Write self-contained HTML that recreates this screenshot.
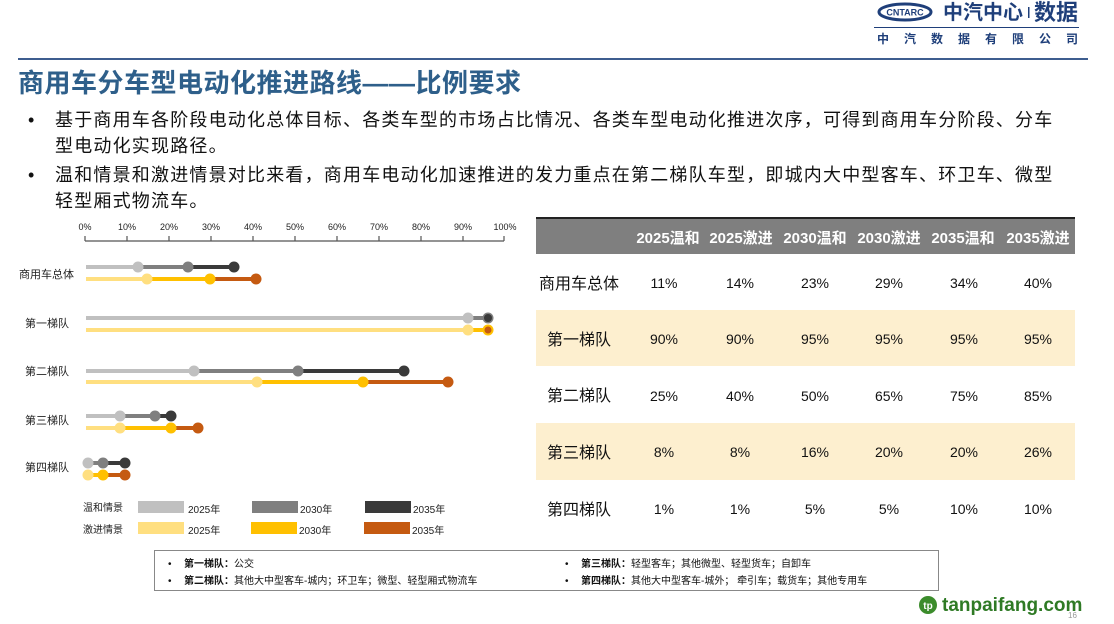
<!DOCTYPE html>
<html><head><meta charset="utf-8"><style>
body{margin:0;background:#fff;}
svg{display:block;font-family:"Liberation Sans","Noto Sans CJK SC",sans-serif;}
</style></head><body>
<svg width="1114" height="624" viewBox="0 0 1114 624" xmlns="http://www.w3.org/2000/svg">
<!-- logo -->
<ellipse cx="905" cy="12" rx="26" ry="8" fill="none" stroke="#1f3f7a" stroke-width="3"/>
<text x="905" y="15.5" font-size="9" font-weight="bold" fill="#1f3f7a" text-anchor="middle">CNTARC</text>
<text x="943" y="19" font-size="20" font-weight="bold" fill="#1f3f7a">中汽中心</text>
<rect x="1028" y="7" width="1.5" height="11" fill="#1f3f7a"/>
<text x="1034" y="20" font-size="22" font-weight="bold" fill="#1f3f7a">数据</text>
<rect x="874" y="27" width="205" height="1" fill="#1f3f7a"/>
<text x="877" y="43" font-size="12" font-weight="bold" fill="#1f3f7a" letter-spacing="15">中汽数据有限公司</text>
<rect x="18" y="58" width="1070" height="2" fill="#3e5d8f"/>
<!-- title -->
<text x="18" y="92" font-size="26" font-weight="bold" fill="#2e5f8a" letter-spacing="0.5">商用车分车型电动化推进路线——比例要求</text>
<g font-size="18" fill="#111" letter-spacing="1.2">
<text x="28" y="126">•</text>
<text x="55" y="126">基于商用车各阶段电动化总体目标、各类车型的市场占比情况、各类车型电动化推进次序，可得到商用车分阶段、分车</text>
<text x="55" y="152">型电动化实现路径。</text>
<text x="28" y="181">•</text>
<text x="55" y="181">温和情景和激进情景对比来看，商用车电动化加速推进的发力重点在第二梯队车型，即城内大中型客车、环卫车、微型</text>
<text x="55" y="207">轻型厢式物流车。</text>
</g>
<!-- axis -->
<g font-size="9" fill="#222" text-anchor="middle">
<text x="85" y="230">0%</text><text x="127" y="230">10%</text><text x="169" y="230">20%</text><text x="211" y="230">30%</text><text x="253" y="230">40%</text><text x="295" y="230">50%</text><text x="337" y="230">60%</text><text x="379" y="230">70%</text><text x="421" y="230">80%</text><text x="463" y="230">90%</text><text x="505" y="230">100%</text>
</g>
<path d="M85 241H504 M85 236V241 M127 236V241 M169 236V241 M211 236V241 M253 236V241 M295 236V241 M337 236V241 M379 236V241 M421 236V241 M463 236V241 M504 236V241" stroke="#555" stroke-width="1.2" fill="none"/>
<g font-size="11" fill="#222">
<text x="19" y="278">商用车总体</text>
<text x="25" y="327">第一梯队</text>
<text x="25" y="375">第二梯队</text>
<text x="25" y="424">第三梯队</text>
<text x="25" y="471">第四梯队</text>
</g>
<g stroke-width="4">
<line x1="86" y1="267" x2="138" y2="267" stroke="#c0c0c0"/><line x1="138" y1="267" x2="188" y2="267" stroke="#7f7f7f"/><line x1="188" y1="267" x2="234" y2="267" stroke="#3a3a3a"/>
<line x1="86" y1="279" x2="147" y2="279" stroke="#ffdf80"/><line x1="147" y1="279" x2="210" y2="279" stroke="#ffc000"/><line x1="210" y1="279" x2="256" y2="279" stroke="#c55a11"/>
<line x1="86" y1="318" x2="468" y2="318" stroke="#c0c0c0"/><line x1="468" y1="318" x2="488" y2="318" stroke="#7f7f7f"/>
<line x1="86" y1="330" x2="468" y2="330" stroke="#ffdf80"/><line x1="468" y1="330" x2="488" y2="330" stroke="#ffc000"/>
<line x1="86" y1="371" x2="194" y2="371" stroke="#c0c0c0"/><line x1="194" y1="371" x2="298" y2="371" stroke="#7f7f7f"/><line x1="298" y1="371" x2="404" y2="371" stroke="#3a3a3a"/>
<line x1="86" y1="382" x2="257" y2="382" stroke="#ffdf80"/><line x1="257" y1="382" x2="363" y2="382" stroke="#ffc000"/><line x1="363" y1="382" x2="448" y2="382" stroke="#c55a11"/>
<line x1="86" y1="416" x2="120" y2="416" stroke="#c0c0c0"/><line x1="120" y1="416" x2="155" y2="416" stroke="#7f7f7f"/><line x1="155" y1="416" x2="171" y2="416" stroke="#3a3a3a"/>
<line x1="86" y1="428" x2="120" y2="428" stroke="#ffdf80"/><line x1="120" y1="428" x2="171" y2="428" stroke="#ffc000"/><line x1="171" y1="428" x2="198" y2="428" stroke="#c55a11"/>
<line x1="88" y1="463" x2="103" y2="463" stroke="#7f7f7f"/><line x1="103" y1="463" x2="125" y2="463" stroke="#3a3a3a"/>
<line x1="88" y1="475" x2="103" y2="475" stroke="#ffc000"/><line x1="103" y1="475" x2="125" y2="475" stroke="#c55a11"/>
</g>
<g>
<circle cx="138" cy="267" r="5.5" fill="#c0c0c0"/><circle cx="188" cy="267" r="5.5" fill="#7f7f7f"/><circle cx="234" cy="267" r="5.5" fill="#3a3a3a"/>
<circle cx="147" cy="279" r="5.5" fill="#ffdf80"/><circle cx="210" cy="279" r="5.5" fill="#ffc000"/><circle cx="256" cy="279" r="5.5" fill="#c55a11"/>
<circle cx="468" cy="318" r="5.5" fill="#c0c0c0"/><circle cx="488" cy="318" r="5.5" fill="#7f7f7f"/><circle cx="488" cy="318" r="4" fill="#3a3a3a"/>
<circle cx="468" cy="330" r="5.5" fill="#ffdf80"/><circle cx="488" cy="330" r="5.5" fill="#ffc000"/><circle cx="488" cy="330" r="3.5" fill="#c55a11"/>
<circle cx="194" cy="371" r="5.5" fill="#c0c0c0"/><circle cx="298" cy="371" r="5.5" fill="#7f7f7f"/><circle cx="404" cy="371" r="5.5" fill="#3a3a3a"/>
<circle cx="257" cy="382" r="5.5" fill="#ffdf80"/><circle cx="363" cy="382" r="5.5" fill="#ffc000"/><circle cx="448" cy="382" r="5.5" fill="#c55a11"/>
<circle cx="120" cy="416" r="5.5" fill="#c0c0c0"/><circle cx="155" cy="416" r="5.5" fill="#7f7f7f"/><circle cx="171" cy="416" r="5.5" fill="#3a3a3a"/>
<circle cx="120" cy="428" r="5.5" fill="#ffdf80"/><circle cx="171" cy="428" r="5.5" fill="#ffc000"/><circle cx="198" cy="428" r="5.5" fill="#c55a11"/>
<circle cx="88" cy="463" r="5.5" fill="#c0c0c0"/><circle cx="103" cy="463" r="5.5" fill="#7f7f7f"/><circle cx="125" cy="463" r="5.5" fill="#3a3a3a"/>
<circle cx="88" cy="475" r="5.5" fill="#ffdf80"/><circle cx="103" cy="475" r="5.5" fill="#ffc000"/><circle cx="125" cy="475" r="5.5" fill="#c55a11"/>
</g>
<g font-size="10" fill="#222">
<text x="83" y="511">温和情景</text><text x="83" y="533">激进情景</text>
<rect x="138" y="501" width="46" height="12" fill="#c0c0c0"/><text x="188" y="513">2025年</text>
<rect x="252" y="501" width="46" height="12" fill="#7f7f7f"/><text x="300" y="513">2030年</text>
<rect x="365" y="501" width="46" height="12" fill="#3a3a3a"/><text x="413" y="513">2035年</text>
<rect x="138" y="522" width="46" height="12" fill="#ffdf80"/><text x="188" y="534">2025年</text>
<rect x="251" y="522" width="46" height="12" fill="#ffc000"/><text x="299" y="534">2030年</text>
<rect x="364" y="522" width="46" height="12" fill="#c55a11"/><text x="412" y="534">2035年</text>
</g>
<!-- table -->
<rect x="536" y="217" width="539" height="2" fill="#222"/>
<rect x="536" y="219" width="539" height="35" fill="#7f7f7f"/>
<rect x="536" y="310" width="539" height="56" fill="#fdefcf"/>
<rect x="536" y="423" width="539" height="57" fill="#fdefcf"/>
<g font-size="15" font-weight="bold" fill="#fff" text-anchor="middle">
<text x="668" y="243">2025温和</text><text x="741" y="243">2025激进</text><text x="815" y="243">2030温和</text><text x="889" y="243">2030激进</text><text x="963" y="243">2035温和</text><text x="1038" y="243">2035激进</text>
</g>
<g font-size="16" fill="#111">
<text x="539" y="289">商用车总体</text><text x="547" y="345">第一梯队</text><text x="547" y="401">第二梯队</text><text x="547" y="458">第三梯队</text><text x="547" y="515">第四梯队</text>
</g>
<g font-size="14" fill="#111" text-anchor="middle">
<text x="664" y="288">11%</text><text x="740" y="288">14%</text><text x="815" y="288">23%</text><text x="889" y="288">29%</text><text x="964" y="288">34%</text><text x="1038" y="288">40%</text>
<text x="664" y="344">90%</text><text x="740" y="344">90%</text><text x="815" y="344">95%</text><text x="889" y="344">95%</text><text x="964" y="344">95%</text><text x="1038" y="344">95%</text>
<text x="664" y="401">25%</text><text x="740" y="401">40%</text><text x="815" y="401">50%</text><text x="889" y="401">65%</text><text x="964" y="401">75%</text><text x="1038" y="401">85%</text>
<text x="664" y="457">8%</text><text x="740" y="457">8%</text><text x="815" y="457">16%</text><text x="889" y="457">20%</text><text x="964" y="457">20%</text><text x="1038" y="457">26%</text>
<text x="664" y="514">1%</text><text x="740" y="514">1%</text><text x="815" y="514">5%</text><text x="889" y="514">5%</text><text x="964" y="514">10%</text><text x="1038" y="514">10%</text>
</g>
<rect x="154.5" y="550.5" width="784" height="40" fill="#fff" stroke="#888"/>
<g font-size="10" fill="#111">
<text x="168" y="567">•</text><text x="184" y="567"><tspan font-weight="bold">第一梯队：</tspan>公交</text>
<text x="168" y="584">•</text><text x="184" y="584"><tspan font-weight="bold">第二梯队：</tspan>其他大中型客车-城内；环卫车；微型、轻型厢式物流车</text>
<text x="565" y="567">•</text><text x="581" y="567"><tspan font-weight="bold">第三梯队：</tspan>轻型客车；其他微型、轻型货车；自卸车</text>
<text x="565" y="584">•</text><text x="581" y="584"><tspan font-weight="bold">第四梯队：</tspan>其他大中型客车-城外； 牵引车；载货车；其他专用车</text>
</g>
<circle cx="928" cy="605" r="9" fill="#3c8c2c"/>
<text x="928" y="609" font-size="10" font-weight="bold" fill="#fff" text-anchor="middle">tp</text>
<text x="942" y="611" font-size="19" font-weight="bold" fill="#2f7a25">tanpaifang.com</text>
<text x="1068" y="618" font-size="8" fill="#999">16</text>
</svg>
</body></html>
